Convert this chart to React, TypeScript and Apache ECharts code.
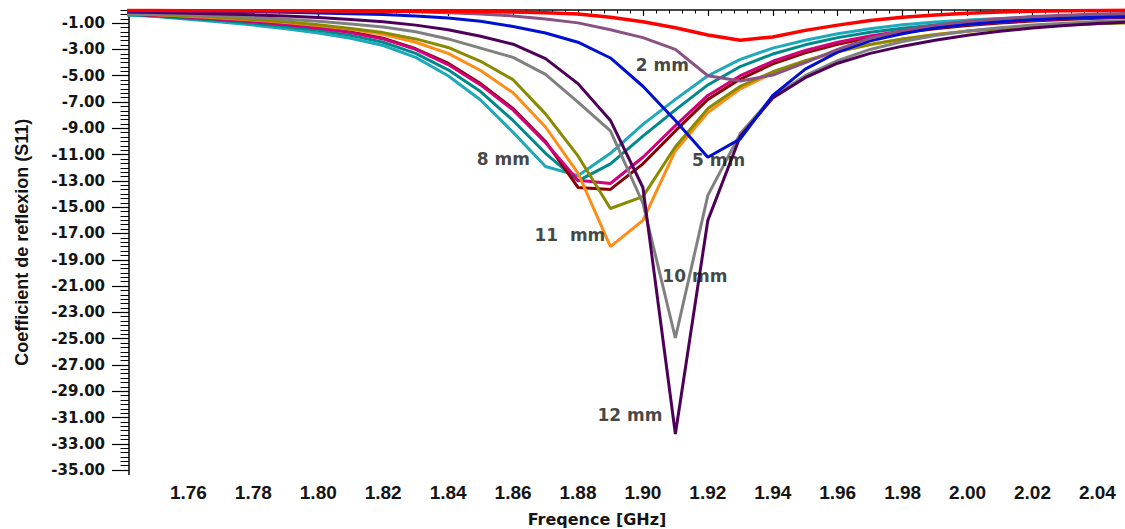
import React, { useEffect, useRef } from "react";
import * as echarts from "echarts";

// Frequency samples (GHz)
const freq = [1.74, 1.75, 1.76, 1.77, 1.78, 1.79, 1.80, 1.81, 1.82, 1.83, 1.84, 1.85, 1.86, 1.87, 1.88, 1.89, 1.90, 1.91, 1.92, 1.93, 1.94, 1.95, 1.96, 1.97, 1.98, 1.99, 2.00, 2.01, 2.02, 2.03, 2.04, 2.05];

// S11 (dB) per curve
const sRed = [-0.04, -0.04, -0.05, -0.05, -0.05, -0.06, -0.06, -0.07, -0.08, -0.09, -0.1, -0.12, -0.16, -0.2, -0.3, -0.55, -0.9, -1.35, -1.9, -2.3, -2.05, -1.55, -1.15, -0.8, -0.55, -0.38, -0.25, -0.15, -0.09, -0.05, -0.03, -0.02];
const s2mm = [-0.03, -0.03, -0.04, -0.04, -0.05, -0.06, -0.07, -0.09, -0.11, -0.14, -0.2, -0.3, -0.45, -0.68, -0.98, -1.5, -2.1, -3.0, -5.0, -5.4, -4.95, -4.0, -3.0, -2.15, -1.55, -1.15, -0.88, -0.66, -0.5, -0.39, -0.31, -0.26];
const s5mm = [-0.1, -0.1, -0.11, -0.12, -0.14, -0.17, -0.23, -0.28, -0.35, -0.45, -0.6, -0.85, -1.25, -1.75, -2.45, -3.65, -5.8, -8.4, -11.2, -9.8, -6.5, -4.5, -3.2, -2.35, -1.8, -1.35, -1.08, -0.89, -0.74, -0.63, -0.55, -0.5];
const s12mm = [-0.15, -0.19, -0.24, -0.3, -0.37, -0.46, -0.57, -0.72, -0.9, -1.15, -1.5, -2.0, -2.6, -3.7, -5.6, -8.4, -13.5, -32.25, -16.0, -9.6, -6.7, -5.15, -4.05, -3.3, -2.75, -2.3, -1.92, -1.62, -1.37, -1.18, -1.03, -0.92];
const s10mm = [-0.25, -0.3, -0.37, -0.46, -0.57, -0.7, -0.86, -1.06, -1.3, -1.65, -2.2, -2.9, -3.6, -4.9, -7.0, -9.2, -14.7, -24.95, -14.1, -9.4, -6.6, -5.0, -3.85, -3.0, -2.4, -1.95, -1.6, -1.35, -1.15, -1.0, -0.88, -0.8];
const sOlive = [-0.28, -0.34, -0.44, -0.56, -0.72, -0.9, -1.12, -1.4, -1.72, -2.2, -2.85, -3.9, -5.3, -7.9, -11.1, -15.1, -14.2, -10.4, -7.5, -5.8, -4.7, -3.85, -3.15, -2.63, -2.2, -1.88, -1.62, -1.42, -1.26, -1.14, -1.05, -0.98];
const s11mm = [-0.3, -0.37, -0.47, -0.6, -0.76, -0.95, -1.18, -1.47, -1.85, -2.45, -3.3, -4.6, -6.3, -8.9, -12.4, -18.0, -16.0, -10.7, -7.8, -6.0, -4.8, -3.9, -3.18, -2.63, -2.2, -1.87, -1.6, -1.4, -1.23, -1.1, -1.0, -0.93];
const sMaroon = [-0.3, -0.4, -0.53, -0.68, -0.86, -1.07, -1.33, -1.67, -2.15, -2.95, -4.05, -5.6, -7.5, -10.0, -13.5, -13.65, -11.7, -9.2, -6.8, -5.25, -4.1, -3.25, -2.6, -2.1, -1.72, -1.42, -1.18, -0.99, -0.84, -0.72, -0.63, -0.56];
const sMagenta = [-0.3, -0.4, -0.54, -0.7, -0.88, -1.1, -1.37, -1.72, -2.2, -3.0, -4.15, -5.7, -7.6, -10.1, -12.95, -13.2, -11.2, -8.8, -6.5, -5.0, -3.9, -3.08, -2.45, -1.97, -1.6, -1.32, -1.1, -0.92, -0.78, -0.67, -0.58, -0.52];
const sTeal = [-0.32, -0.45, -0.62, -0.8, -1.0, -1.25, -1.55, -1.93, -2.45, -3.3, -4.55, -6.2, -8.4, -10.9, -13.0, -11.7, -9.6, -7.6, -5.7, -4.3, -3.35, -2.65, -2.1, -1.7, -1.38, -1.14, -0.95, -0.8, -0.68, -0.59, -0.52, -0.46];
const s8mm = [-0.36, -0.5, -0.7, -0.92, -1.15, -1.42, -1.75, -2.15, -2.7, -3.6, -5.0, -6.85, -9.3, -11.9, -12.6, -10.9, -8.7, -6.8, -5.0, -3.75, -2.9, -2.3, -1.8, -1.42, -1.13, -0.92, -0.77, -0.65, -0.56, -0.49, -0.43, -0.39];

// Axis tick labels
const xTickValues = [1.76, 1.78, 1.80, 1.82, 1.84, 1.86, 1.88, 1.90, 1.92, 1.94, 1.96, 1.98, 2.00, 2.02, 2.04];
const yTickValues = [-1, -3, -5, -7, -9, -11, -13, -15, -17, -19, -21, -23, -25, -27, -29, -31, -33, -35];

// In-plot annotations
const annotations = [
  { name: "2 mm", value: [1.906, -4.22] },
  { name: "5 mm", value: [1.9233, -11.43] },
  { name: "8 mm", value: [1.857, -11.3] },
  { name: "11  mm", value: [1.8775, -17.15] },
  { name: "10 mm", value: [1.916, -20.23] },
  { name: "12 mm", value: [1.896, -30.84] },
];

const curves = [
  { name: "8 mm", color: "#1DA9B9", data: s8mm },
  { name: "teal", color: "#00898B", data: sTeal },
  { name: "maroon", color: "#8A0000", data: sMaroon },
  { name: "magenta", color: "#D1007C", data: sMagenta },
  { name: "11 mm", color: "#FF8C14", data: s11mm },
  { name: "olive", color: "#8A8A00", data: sOlive },
  { name: "10 mm", color: "#808080", data: s10mm },
  { name: "12 mm", color: "#4E0058", data: s12mm },
  { name: "5 mm", color: "#0010D0", data: s5mm },
  { name: "2 mm", color: "#8A5282", data: s2mm },
  { name: "red", color: "#FF0000", data: sRed },
];

const X_MIN = 1.7417;
const X_MAX = 2.0485;
const Y_MIN = -35.333;
const Y_MAX = 0;

export default function App() {
  const ref = useRef<HTMLDivElement>(null);
  useEffect(() => {
    if (!ref.current) return;
    const chart = echarts.init(ref.current, undefined, { renderer: "svg" });

    const xMinor: number[] = [];
    for (let k = -4; k <= 72; k++) {
      const v = +(1.76 + k * 0.004).toFixed(4);
      if (v >= X_MIN && v <= X_MAX) xMinor.push(v);
    }
    const yMinor: number[] = [];
    for (let k = -1; k <= 105; k++) {
      const v = -35 + k / 3;
      if (v >= Y_MIN - 1e-6 && v <= Y_MAX + 1e-6) yMinor.push(v);
    }

    const axisFontY = { fontFamily: "DejaVu Sans", fontWeight: "bold" as const, fontSize: 15, color: "#141414" };
    const axisFontX = { fontFamily: "Liberation Sans", fontWeight: "bold" as const, fontSize: 19, color: "#141414" };

    const option: any = {
      animation: false,
      backgroundColor: "#ffffff",
      grid: { left: 129, right: 0, top: 10, bottom: 54.5, containLabel: false },
      xAxis: [
        {
          type: "value", min: X_MIN, max: X_MAX, position: "bottom",
          axisLine: { show: true, lineStyle: { color: "#000", width: 1.5 } },
          axisTick: { show: true, customValues: xMinor, length: 3.5, lineStyle: { color: "#000", width: 1 } },
          axisLabel: { show: false },
          splitLine: { show: false },
        },
        {
          type: "value", min: X_MIN, max: X_MAX, position: "bottom",
          axisLine: { show: false },
          axisTick: { show: true, customValues: xTickValues, length: 6, lineStyle: { color: "#000", width: 1.2 } },
          axisLabel: { show: true, customValues: xTickValues, margin: 8, formatter: (v: number) => v.toFixed(2), ...axisFontX },
          splitLine: { show: false },
        },
        {
          type: "value", min: X_MIN, max: X_MAX, position: "top",
          axisLine: { show: true, lineStyle: { color: "#4a4a4a", width: 1.5 } },
          axisTick: { show: false }, axisLabel: { show: false }, splitLine: { show: false },
        },
      ],
      yAxis: [
        {
          type: "value", min: Y_MIN, max: Y_MAX, position: "left",
          axisLine: { show: true, lineStyle: { color: "#000", width: 1.5 } },
          axisTick: { show: true, customValues: yTickValues, length: 17, lineStyle: { color: "#000", width: 1.2 } },
          axisLabel: { show: true, customValues: yTickValues, margin: 24, formatter: (v: number) => v.toFixed(2), ...axisFontY },
          splitLine: { show: false },
          name: "Coefficient de reflexion (S11)",
          nameLocation: "middle",
          nameRotate: 90,
          nameGap: 98,
          nameTextStyle: { fontFamily: "Liberation Sans", fontWeight: "bold", fontSize: 18, color: "#141414" },
        },
        {
          type: "value", min: Y_MIN, max: Y_MAX, position: "left",
          axisLine: { show: false },
          axisTick: { show: true, customValues: yMinor, length: 8.5, lineStyle: { color: "#000", width: 1 } },
          axisLabel: { show: false }, splitLine: { show: false },
        },
      ],
      graphic: [
        {
          type: "text", x: 597, y: 519,
          style: {
            text: "Freqence [GHz]", fontFamily: "DejaVu Sans", fontWeight: "bold", fontSize: 16,
            fill: "#141414", align: "center", verticalAlign: "middle",
          },
        },
      ],
      series: [
        ...curves.map((c) => ({
          type: "line",
          name: c.name,
          xAxisIndex: 0,
          yAxisIndex: 0,
          data: freq.map((f, i) => [f, c.data[i]]),
          showSymbol: false,
          symbol: "none",
          lineStyle: { color: c.color, width: c.name === "red" ? 3.5 : 3 },
          itemStyle: { color: c.color },
          silent: true,
        })),
        {
          type: "scatter",
          xAxisIndex: 0,
          yAxisIndex: 0,
          symbolSize: 0,
          z: 10,
          silent: true,
          data: annotations,
          label: {
            show: true, position: "inside", formatter: "{b}",
            fontFamily: "DejaVu Sans", fontWeight: "bold", fontSize: 17, color: "#141414",
          },
        },
      ],
    };
    chart.setOption(option);
    return () => chart.dispose();
  }, []);
  return (
    <div
      ref={ref}
      style={{ position: "absolute", left: 0, top: 0, width: 1125, height: 529, background: "#fff" }}
    />
  );
}
